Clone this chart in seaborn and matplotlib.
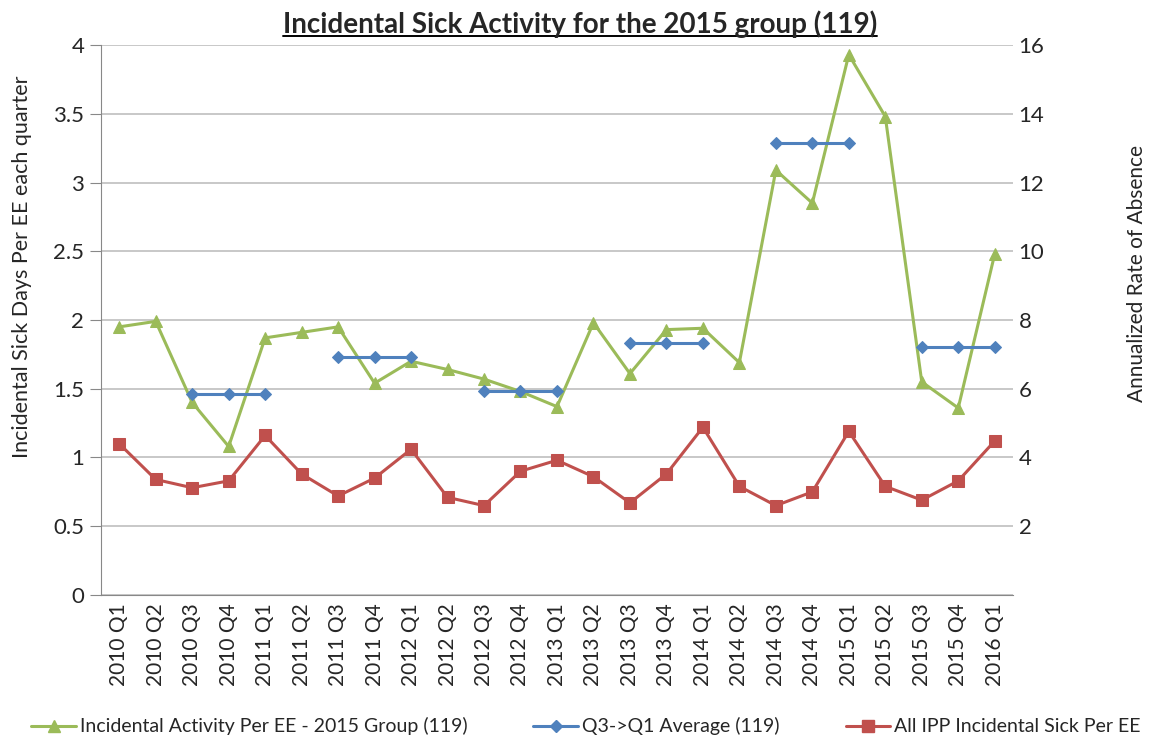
import numpy as np
import pandas as pd
import matplotlib
matplotlib.use("Agg")
import matplotlib.pyplot as plt
from matplotlib.lines import Line2D
import seaborn as sns

# ---- data ----
quarters = ["2010 Q1", "2010 Q2", "2010 Q3", "2010 Q4", "2011 Q1", "2011 Q2", "2011 Q3",
            "2011 Q4", "2012 Q1", "2012 Q2", "2012 Q3", "2012 Q4", "2013 Q1", "2013 Q2",
            "2013 Q3", "2013 Q4", "2014 Q1", "2014 Q2", "2014 Q3", "2014 Q4", "2015 Q1",
            "2015 Q2", "2015 Q3", "2015 Q4", "2016 Q1"]

group_2015 = [1.95, 1.99, 1.40, 1.08, 1.87, 1.91, 1.95, 1.54, 1.70, 1.64, 1.57, 1.48, 1.37,
              1.98, 1.61, 1.93, 1.94, 1.69, 3.09, 2.85, 3.93, 3.48, 1.55, 1.36, 2.48]

# Q3->Q1 averages, one value per (Q3, Q4, Q1) run; gaps elsewhere
q3q1_avg = [np.nan, np.nan, 1.46, 1.46, 1.46, np.nan, 1.73, 1.73, 1.73, np.nan, 1.48, 1.48,
            1.48, np.nan, 1.83, 1.83, 1.83, np.nan, 3.29, 3.29, 3.29, np.nan, 1.80, 1.80, 1.80]

all_ipp = [1.10, 0.84, 0.78, 0.83, 1.16, 0.88, 0.72, 0.85, 1.06, 0.71, 0.65, 0.90, 0.98,
           0.86, 0.67, 0.88, 1.22, 0.79, 0.65, 0.75, 1.19, 0.79, 0.69, 0.83, 1.12]

labels = ["Incidental Activity Per EE - 2015 Group (119)",
          "Q3->Q1 Average (119)",
          "All IPP Incidental Sick Per EE"]

GREEN = "#9BBB59"
BLUE = "#4F81BD"
RED = "#C0504D"

df = pd.DataFrame({
    "pos": np.arange(len(quarters)),
    "quarter": quarters,
    "group": group_2015,
    "avg": q3q1_avg,
    "ipp": all_ipp,
})
# segment id for the broken average line
df["seg"] = df["avg"].isna().cumsum()
avg_df = df.dropna(subset=["avg"])

sns.set_style("white")
plt.rcParams["font.family"] = ["Lato", "DejaVu Sans"]

fig = plt.figure(figsize=(11.49, 7.44), dpi=100)
ax = fig.add_axes([0.0879, 0.2003, 0.7937, 0.7392])

sns.lineplot(data=df, x="pos", y="group", ax=ax, color=GREEN, lw=2.2,
             marker="^", markersize=9, markeredgecolor=GREEN)
sns.lineplot(data=avg_df, x="pos", y="avg", units="seg", estimator=None, ax=ax,
             color=BLUE, lw=2.2, marker="D", markersize=6, markeredgecolor=BLUE)
sns.lineplot(data=df, x="pos", y="ipp", ax=ax, color=RED, lw=2.2,
             marker="s", markersize=9, markeredgecolor=RED)

ax.set_xlim(-0.5, len(quarters) - 0.5)
ax.set_ylim(0, 4)
ax.set_yticks(np.arange(0, 4.01, 0.5))
ax.set_yticklabels(["0", "0.5", "1", "1.5", "2", "2.5", "3", "3.5", "4"])
ax.set_xticks(df["pos"])
ax.set_xticklabels(quarters, rotation=90, fontsize=15)
ax.set_xticks(np.arange(-0.5, len(quarters), 1), minor=True)
ax.tick_params(axis="x", which="major", length=0, pad=6)
ax.tick_params(axis="x", which="minor", length=8, color="#888888", direction="out")
ax.tick_params(axis="y", which="major", length=8, color="#888888", labelsize=16,
               direction="out", pad=4)
ax.grid(axis="y", color="#BFBFBF", lw=1.2)
ax.set_axisbelow(True)
for side in ["top", "right"]:
    ax.spines[side].set_visible(False)
for side in ["left", "bottom"]:
    ax.spines[side].set_color("#888888")
ax.set_xlabel("")
ax.set_ylabel("Incidental Sick Days Per EE each quarter", fontsize=15.5)
ax.yaxis.set_label_coords(-0.076, 0.596)

# secondary axis: annualized rate (4 quarters)
ax2 = ax.twinx()
ax2.set_ylim(0, 16)
ax2.set_yticks([2, 4, 6, 8, 10, 12, 14, 16])
ax2.tick_params(axis="y", length=0, labelsize=16, pad=4)
for side in ["top", "right", "left", "bottom"]:
    ax2.spines[side].set_visible(False)
ax2.set_ylabel("Annualized Rate of Absence", fontsize=15)
ax2.yaxis.set_label_coords(1.125, 0.584)

# legend at the bottom
handles = [
    Line2D([], [], color=GREEN, lw=2.2, marker="^", markersize=9),
    Line2D([], [], color=BLUE, lw=2.2, marker="D", markersize=6),
    Line2D([], [], color=RED, lw=2.2, marker="s", markersize=9),
]
fig.legend(handles, labels, loc="lower center", bbox_to_anchor=(0.51, -0.012), ncol=3,
           frameon=False, fontsize=14, columnspacing=3.4, handlelength=2.3,
           handletextpad=0.2)

# underlined bold title
title = fig.text(0.505, 0.968, "Incidental Sick Activity for the 2015 group (119)",
                 ha="center", va="center", fontsize=20, fontweight="bold")
fig.canvas.draw()
bb = title.get_window_extent(fig.canvas.get_renderer())
bb = bb.transformed(fig.transFigure.inverted())
fig.add_artist(Line2D([bb.x0, bb.x1], [bb.y0 + 0.002, bb.y0 + 0.002],
                      transform=fig.transFigure, color="black", lw=1.4))

fig.savefig("out.png", dpi=100)
